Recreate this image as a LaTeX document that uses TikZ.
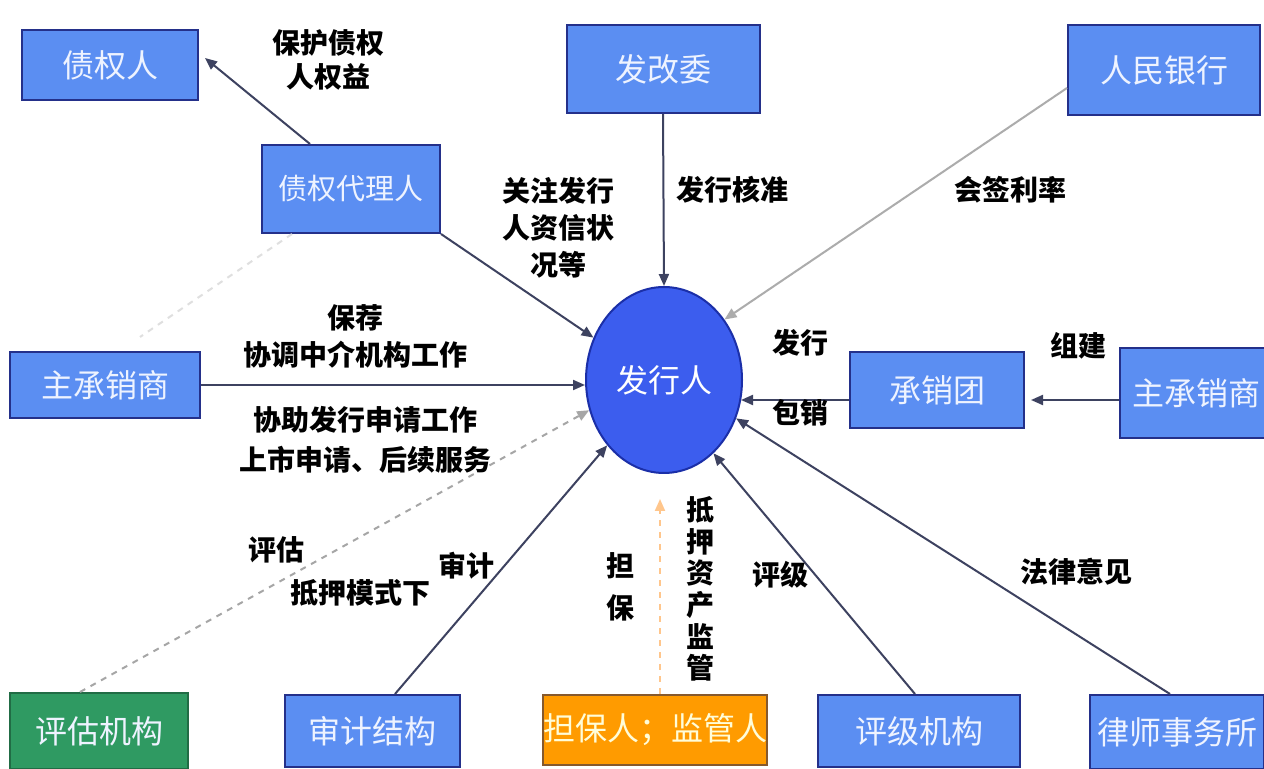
\documentclass[tikz,border=0pt]{standalone}
\usepackage{fontspec}
\newfontfamily\cjk{Noto Sans CJK SC}
\usetikzlibrary{arrows.meta,shapes.geometric}
\definecolor{boxblue}{HTML}{5B8EF2}
\definecolor{boxedge}{HTML}{24308A}
\definecolor{ellblue}{HTML}{3C5DEE}
\definecolor{elledge}{HTML}{1B2FA8}
\definecolor{gbox}{HTML}{2F9A62}
\definecolor{obox}{HTML}{FF9B00}
\definecolor{arr}{HTML}{3D4260}
\definecolor{boxtext}{HTML}{EEF3FF}
\begin{document}
\begin{tikzpicture}[x=0.5pt,y=-0.5pt,
 box/.style={draw=boxedge, line width=1pt, fill=boxblue, text=boxtext,
   font=\cjk\fontsize{16}{19}\selectfont, inner sep=0pt},
 lbl/.style={font=\cjk\bfseries\fontsize{14}{18.5}\selectfont, text=black, align=center, inner sep=0pt},
 conn/.style={draw=arr, line width=1pt, -{Triangle[length=6pt,width=5pt]}},
 ]
\fill[white] (0,0) rectangle (1264,769);
\useasboundingbox (0,0) rectangle (1264,769);

% nodes
\node[box, minimum width=88pt, minimum height=35pt] (zqr) at (110,65) {债权人};
\node[box, minimum width=89pt, minimum height=44pt, font=\cjk\fontsize{14.5}{18}\selectfont] (dlr) at (351,189) {债权代理人};
\node[box, minimum width=96.5pt, minimum height=44pt] (fgw) at (663,69) {发改委};
\node[box, minimum width=96pt, minimum height=45pt] (rmyh) at (1164,70) {人民银行};
\node[box, minimum width=95pt, minimum height=33pt] (zcsl) at (105,385) {主承销商};
\node[ellipse, draw=elledge, line width=1pt, fill=ellblue, text=white,
  minimum width=78pt, minimum height=93pt, inner sep=0pt,
  font=\cjk\fontsize{16}{19}\selectfont] (fxr) at (664,380) {发行人};
\node[box, minimum width=87pt, minimum height=38pt] (cxt) at (937,390) {承销团};
\node[box, minimum width=76pt, minimum height=45pt] (zcsr) at (1196,393) {主承销商};
\node[box, fill=gbox, draw=gbox!70!black, minimum width=89pt, minimum height=38pt] (pgjg) at (99,731) {评估机构};
\node[box, minimum width=87.5pt, minimum height=36pt] (sjjg) at (372,731) {审计结构};
\node[box, fill=obox, draw=brown!70!black, text=yellow!15, minimum width=110pt, minimum height=35pt] (dbr) at (655,730) {担保人；监管人};
\node[box, minimum width=101pt, minimum height=36pt] (pjjg) at (919,731) {评级机构};
\node[box, minimum width=87pt, minimum height=37pt] (lsws) at (1177,732) {律师事务所};

% connectors
\draw[dashed, draw=gray!25, line width=1pt] ([xshift=-29.5pt]dlr.south) -- ([xshift=17.5pt,yshift=7pt]zcsl.north);
\draw[conn] ([xshift=-20.5pt]dlr.north) -- ([xshift=3pt,yshift=3.5pt]zqr.east);
\draw[conn] (dlr.south east) -- (fxr.149);
\draw[conn] (fgw.south) -- (fxr.north);
\draw[conn, draw=gray!65] ([yshift=-9pt]rmyh.west) -- (fxr.45);
\draw[conn] (zcsl.east) -- (zcsl.east -| fxr.west);
\draw[conn, dashed, draw=gray!70] ([xshift=-9.5pt]pgjg.north) -- (fxr.202);
\draw[conn] ([xshift=11.5pt]sjjg.north) -- (fxr.229);
\draw[conn, dashed, draw=orange!45] ([xshift=2.5pt]dbr.north) -- ([xshift=-2pt,yshift=-12.5pt]fxr.south);
\draw[conn] ([xshift=-2pt]pjjg.north) -- (fxr.304);
\draw[conn] ([xshift=-3.5pt]lsws.north) -- (fxr.332);
\draw[conn] ([yshift=-5pt]cxt.west) -- ([yshift=-5pt,xshift=-1pt]cxt.west -| fxr.east);
\draw[conn] ([yshift=-3.5pt]zcsr.west) -- ([yshift=-5pt,xshift=3pt]cxt.east);

% labels
\node[lbl, font=\cjk\bfseries\fontsize{14}{17}\selectfont] (l1) at (328,60) {保护债权\\人权益};
\node[lbl] (l2) at (558,228) {关注发行\\人资信状\\况等};
\node[lbl] (l3) at (732,190) {发行核准};
\node[lbl] (l4) at (1010,190) {会签利率};
\node[lbl] (l5) at (355,336) {保荐\\协调中介机构工作};
\node[lbl, font=\cjk\bfseries\fontsize{14}{20}\selectfont] (l6) at (365,440) {协助发行申请工作\\上市申请、后续服务};
\node[lbl] (l7) at (276,550) {评估};
\node[lbl] (l8) at (360,593) {抵押模式下};
\node[lbl] (l9) at (466,566) {审计};
\node[lbl, font=\cjk\bfseries\fontsize{14}{21}\selectfont] (l10) at (620,587) {担\\保};
\node[lbl, font=\cjk\bfseries\fontsize{14}{15.8}\selectfont] (l11) at (700,589) {抵\\押\\资\\产\\监\\管};
\node[lbl] (l12) at (780,575) {评级};
\node[lbl] (l13) at (1076,572) {法律意见};
\node[lbl] (l14) at (800,343) {发行};
\node[lbl] (l15) at (800,413) {包销};
\node[lbl] (l16) at (1078,346) {组建};
\end{tikzpicture}
\end{document}
